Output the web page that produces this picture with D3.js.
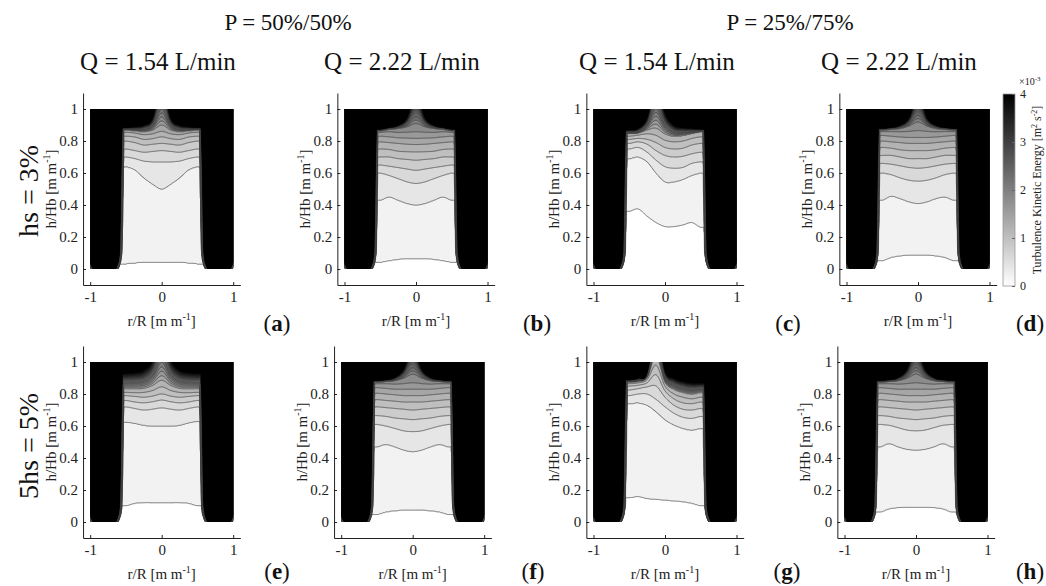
<!DOCTYPE html>
<html>
<head>
<meta charset="utf-8">
<script src="https://cdn.jsdelivr.net/npm/d3@7"></script>
<style>
  body { margin: 0; background: #fff; }
  svg, svg text { font-family: "Liberation Serif", "Times New Roman", serif; }
</style>
</head>
<body>
<div id="chart"></div>
<script>
const stations = [-0.5, -0.375, -0.25, -0.125, 0, 0.125, 0.25, 0.375, 0.5];
const levelStep = 0.2e-3;     // TKE between two contour levels
const levelMax = 20;          // 20 * 0.2e-3 = 4e-3, colour limit
const cbTicks = [0, 1, 2, 3, 4];
const xTicks = [-1, 0, 1];
const yTicks = [0, 0.2, 0.4, 0.6, 0.8, 1];

// channel half width vs height (h/Hb)
const wallH = [0, 0.02, 0.05, 0.1, 0.3, 0.6, 0.88, 1.0];
const wallR = [0.63, 0.61, 0.59, 0.575, 0.565, 0.555, 0.54, 0.535];

// heights of contour levels 1..K at each station, plus height where TKE saturates
const levelsA = [
  [0.03, 0.035, 0.04, 0.04, 0.04, 0.04, 0.04, 0.035, 0.03],
  [0.64, 0.62, 0.57, 0.53, 0.50, 0.53, 0.57, 0.62, 0.64],
  [0.70, 0.69, 0.675, 0.67, 0.67, 0.67, 0.675, 0.69, 0.70],
  [0.75, 0.74, 0.73, 0.735, 0.74, 0.735, 0.73, 0.74, 0.75],
  [0.80, 0.79, 0.775, 0.78, 0.785, 0.78, 0.775, 0.79, 0.80],
  [0.83, 0.825, 0.81, 0.815, 0.826, 0.815, 0.81, 0.825, 0.83],
  [0.855, 0.85, 0.84, 0.845, 0.86, 0.845, 0.84, 0.85, 0.855],
  [0.87, 0.865, 0.86, 0.87, 0.90, 0.87, 0.86, 0.865, 0.87]
];
const topA = [0.885, 0.89, 0.90, 0.95, 1.2, 0.95, 0.90, 0.89, 0.885];

const levelsB = [
  [0.04, 0.05, 0.058, 0.063, 0.063, 0.063, 0.058, 0.05, 0.04],
  [0.43, 0.45, 0.43, 0.41, 0.40, 0.41, 0.43, 0.45, 0.43],
  [0.60, 0.585, 0.565, 0.545, 0.535, 0.545, 0.565, 0.585, 0.60],
  [0.65, 0.642, 0.634, 0.625, 0.617, 0.625, 0.634, 0.642, 0.65],
  [0.70, 0.70, 0.69, 0.685, 0.68, 0.685, 0.69, 0.70, 0.70],
  [0.75, 0.747, 0.736, 0.733, 0.732, 0.733, 0.736, 0.747, 0.75],
  [0.795, 0.79, 0.785, 0.78, 0.778, 0.78, 0.785, 0.79, 0.795],
  [0.83, 0.826, 0.82, 0.818, 0.816, 0.818, 0.82, 0.826, 0.83],
  [0.855, 0.858, 0.854, 0.855, 0.858, 0.855, 0.854, 0.858, 0.855],
  [0.865, 0.875, 0.88, 0.89, 0.91, 0.89, 0.88, 0.875, 0.865]
];
const topB = [0.875, 0.885, 0.90, 0.95, 1.12, 0.95, 0.90, 0.885, 0.875];

const levelsC = [
  [0.36, 0.375, 0.33, 0.29, 0.265, 0.265, 0.275, 0.29, 0.26],
  [0.69, 0.70, 0.67, 0.60, 0.545, 0.545, 0.56, 0.585, 0.60],
  [0.75, 0.76, 0.73, 0.68, 0.64, 0.63, 0.635, 0.66, 0.67],
  [0.785, 0.795, 0.78, 0.74, 0.71, 0.70, 0.705, 0.72, 0.73],
  [0.81, 0.816, 0.81, 0.79, 0.76, 0.75, 0.755, 0.775, 0.785],
  [0.83, 0.837, 0.845, 0.835, 0.805, 0.795, 0.80, 0.816, 0.826],
  [0.847, 0.85, 0.87, 0.88, 0.845, 0.83, 0.835, 0.847, 0.858]
];
const topC = [0.87, 0.88, 0.95, 1.2, 0.98, 0.90, 0.885, 0.88, 0.875];

const levelsD = [
  [0.05, 0.07, 0.08, 0.085, 0.085, 0.085, 0.08, 0.07, 0.05],
  [0.43, 0.455, 0.44, 0.42, 0.41, 0.42, 0.44, 0.45, 0.43],
  [0.60, 0.59, 0.57, 0.555, 0.55, 0.555, 0.57, 0.59, 0.60],
  [0.66, 0.655, 0.645, 0.635, 0.63, 0.635, 0.645, 0.655, 0.66],
  [0.71, 0.71, 0.70, 0.69, 0.69, 0.69, 0.70, 0.71, 0.71],
  [0.76, 0.755, 0.745, 0.74, 0.74, 0.74, 0.745, 0.755, 0.76],
  [0.80, 0.795, 0.79, 0.785, 0.785, 0.785, 0.79, 0.795, 0.80],
  [0.835, 0.83, 0.825, 0.822, 0.822, 0.822, 0.825, 0.83, 0.835],
  [0.86, 0.86, 0.858, 0.86, 0.865, 0.86, 0.858, 0.86, 0.86],
  [0.87, 0.875, 0.88, 0.895, 0.92, 0.895, 0.88, 0.875, 0.87]
];
const topD = [0.88, 0.885, 0.90, 0.95, 1.12, 0.95, 0.90, 0.885, 0.88];

const levelsE = [
  [0.10, 0.115, 0.12, 0.12, 0.12, 0.12, 0.12, 0.115, 0.10],
  [0.625, 0.617, 0.605, 0.60, 0.60, 0.60, 0.605, 0.62, 0.63],
  [0.72, 0.71, 0.70, 0.706, 0.714, 0.706, 0.70, 0.71, 0.72],
  [0.76, 0.75, 0.745, 0.752, 0.762, 0.752, 0.745, 0.75, 0.76],
  [0.79, 0.785, 0.78, 0.787, 0.80, 0.787, 0.78, 0.785, 0.79],
  [0.81, 0.808, 0.81, 0.822, 0.845, 0.822, 0.81, 0.808, 0.81],
  [0.834, 0.834, 0.836, 0.855, 0.886, 0.855, 0.836, 0.834, 0.834]
];
const topE = [0.93, 0.935, 0.95, 1.02, 1.25, 1.02, 0.95, 0.935, 0.93];

const levelsF = [
  [0.045, 0.06, 0.068, 0.072, 0.072, 0.072, 0.068, 0.06, 0.045],
  [0.47, 0.485, 0.47, 0.45, 0.44, 0.45, 0.47, 0.485, 0.47],
  [0.61, 0.60, 0.585, 0.57, 0.565, 0.57, 0.585, 0.60, 0.61],
  [0.665, 0.66, 0.65, 0.645, 0.64, 0.645, 0.65, 0.66, 0.665],
  [0.72, 0.715, 0.71, 0.705, 0.70, 0.705, 0.71, 0.715, 0.72],
  [0.765, 0.76, 0.755, 0.75, 0.75, 0.75, 0.755, 0.76, 0.765],
  [0.805, 0.80, 0.795, 0.79, 0.79, 0.79, 0.795, 0.80, 0.805],
  [0.84, 0.835, 0.83, 0.83, 0.83, 0.83, 0.83, 0.835, 0.84],
  [0.865, 0.865, 0.862, 0.865, 0.87, 0.865, 0.862, 0.865, 0.865],
  [0.875, 0.88, 0.885, 0.90, 0.925, 0.90, 0.885, 0.88, 0.875]
];
const topF = [0.885, 0.89, 0.905, 0.96, 1.12, 0.96, 0.905, 0.89, 0.885];

const levelsG = [
  [0.15, 0.157, 0.145, 0.14, 0.135, 0.13, 0.125, 0.115, 0.10],
  [0.74, 0.745, 0.73, 0.69, 0.64, 0.607, 0.586, 0.575, 0.586],
  [0.79, 0.80, 0.80, 0.766, 0.72, 0.68, 0.655, 0.648, 0.66],
  [0.825, 0.834, 0.845, 0.85, 0.78, 0.73, 0.705, 0.70, 0.71],
  [0.85, 0.855, 0.87, 0.92, 0.82, 0.77, 0.745, 0.74, 0.75],
  [0.865, 0.87, 0.89, 0.98, 0.85, 0.80, 0.78, 0.77, 0.78],
  [0.875, 0.88, 0.905, 1.04, 0.875, 0.83, 0.81, 0.80, 0.81]
];
const topG = [0.89, 0.90, 0.93, 1.25, 0.95, 0.90, 0.88, 0.87, 0.87];

const levelsH = [
  [0.06, 0.08, 0.088, 0.09, 0.09, 0.09, 0.088, 0.08, 0.06],
  [0.47, 0.49, 0.47, 0.455, 0.45, 0.455, 0.47, 0.49, 0.47],
  [0.61, 0.605, 0.59, 0.575, 0.57, 0.575, 0.59, 0.605, 0.61],
  [0.665, 0.66, 0.65, 0.645, 0.64, 0.645, 0.65, 0.66, 0.665],
  [0.72, 0.715, 0.71, 0.705, 0.70, 0.705, 0.71, 0.715, 0.72],
  [0.765, 0.76, 0.755, 0.75, 0.75, 0.75, 0.755, 0.76, 0.765],
  [0.805, 0.80, 0.795, 0.79, 0.79, 0.79, 0.795, 0.80, 0.805],
  [0.84, 0.835, 0.83, 0.83, 0.83, 0.83, 0.83, 0.835, 0.84],
  [0.865, 0.865, 0.862, 0.865, 0.87, 0.865, 0.862, 0.865, 0.865],
  [0.875, 0.88, 0.885, 0.90, 0.925, 0.90, 0.885, 0.88, 0.875]
];
const topH = [0.885, 0.89, 0.905, 0.96, 1.12, 0.96, 0.905, 0.89, 0.885];

const colTitlesP = ["P = 50%/50%", "P = 25%/75%"];
const colTitlesQ = ["Q = 1.54 L/min", "Q = 2.22 L/min", "Q = 1.54 L/min", "Q = 2.22 L/min"];
const rowTitles = ["hs = 3%", "5hs = 5%"];

// layout
const W = 1046, H = 586;
const FONT = "Liberation Serif";
const pxPerR = 71.5, pxPerH = 160;
const panels = [
  { id: "a", levels: levelsA, top: topA, cx: 161.7, y0: 269, lx: 277, ly: 331 },
  { id: "b", levels: levelsB, top: topB, cx: 416,   y0: 269, lx: 537, ly: 331 },
  { id: "c", levels: levelsC, top: topC, cx: 665,   y0: 269, lx: 788, ly: 331 },
  { id: "d", levels: levelsD, top: topD, cx: 918,   y0: 269, lx: 1030, ly: 331 },
  { id: "e", levels: levelsE, top: topE, cx: 161.7, y0: 522, lx: 277, ly: 579 },
  { id: "f", levels: levelsF, top: topF, cx: 412.7, y0: 522, lx: 533, ly: 579 },
  { id: "g", levels: levelsG, top: topG, cx: 665,   y0: 522, lx: 787, ly: 579 },
  { id: "h", levels: levelsH, top: topH, cx: 916,   y0: 522, lx: 1030, ly: 579 }
];

const clamp = (v, a, b) => Math.max(a, Math.min(b, v));
const wallScale = d3.scaleLinear().domain(wallH).range(wallR).clamp(true);

// Catmull-Rom through the station values
function atStation(arr, r) {
  const n = stations.length;
  const step = stations[1] - stations[0];
  const t = (clamp(r, stations[0], stations[n - 1]) - stations[0]) / step;
  const i = Math.min(Math.floor(t), n - 2);
  const f = t - i;
  const p0 = arr[Math.max(i - 1, 0)], p1 = arr[i], p2 = arr[i + 1], p3 = arr[Math.min(i + 2, n - 1)];
  return 0.5 * (2 * p1 + (-p0 + p2) * f + (2 * p0 - 5 * p1 + 4 * p2 - p3) * f * f +
    (-p0 + 3 * p1 - 3 * p2 + p3) * f * f * f);
}

function buildField(levels, top) {
  const nx = 300, ny = 200;
  const x0 = -1.06, x1 = 1.06, y0 = -0.06, y1 = 1.06;
  const dx = (x1 - x0) / (nx - 1), dy = (y1 - y0) / (ny - 1);
  const K = levels.length;
  const values = new Float64Array(nx * ny);
  for (let i = 0; i < nx; ++i) {
    const r = clamp(x0 + i * dx, -1, 1);
    const hk = levels.map(l => atStation(l, r));
    for (let k = 1; k < K; ++k) hk[k] = Math.max(hk[k], hk[k - 1] + 0.003);
    const T = Math.max(atStation(top, r), hk[K - 1] + 0.006);
    for (let j = 0; j < ny; ++j) {
      const h = clamp(y0 + j * dy, 0, 1);
      let L;
      if (h <= hk[0]) L = h / hk[0];
      else if (h >= hk[K - 1]) L = K + (levelMax - K) * (h - hk[K - 1]) / (T - hk[K - 1]);
      else {
        let k = 0;
        while (h >= hk[k + 1]) k++;
        L = k + 1 + (h - hk[k]) / (hk[k + 1] - hk[k]);
      }
      // wall of the channel: short ramp into saturation
      const w = wallScale(h);
      const t = clamp((Math.abs(r) - (w - 0.02)) / 0.04, 0, 1);
      let v = Math.max(L, levelMax * 1.1 * Math.pow(t, 0.8));
      // rounded outer bottom corners
      const cxr = (Math.abs(r) - 0.95) / 0.05, cyr = (0.05 - h) / 0.05;
      if (cxr > 0 && cyr > 0) {
        const d = Math.hypot(cxr, cyr);
        v = Math.min(v, levelMax * 1.1 * clamp((1.3 - d) / 0.4, 0, 1));
      }
      values[i + j * nx] = v;
    }
  }
  return { values, nx, ny, x0, y0, dx, dy };
}

const grey = k => { const g = Math.round(255 * (1 - k / levelMax)); return d3.rgb(g, g, g).toString(); };
const thresholds = d3.range(1, levelMax + 1);
const lineLevelMax = 12;   // iso-lines darker than the fill vanish in the reference

const svg = d3.select("#chart").append("svg")
  .attr("width", W).attr("height", H)
  .attr("font-family", FONT);

const defs = svg.append("defs");

panels.forEach((p, idx) => {
  const xs = d3.scaleLinear().domain([-1.1, 1.1]).range([p.cx - 1.1 * pxPerR, p.cx + 1.1 * pxPerR]);
  const ys = d3.scaleLinear().domain([-0.1, 1.1]).range([p.y0 + 0.1 * pxPerH, p.y0 - 1.1 * pxPerH]);
  const g = svg.append("g").attr("class", "panel-" + p.id).attr("font-family", FONT);

  defs.append("clipPath").attr("id", "clip-" + p.id)
    .append("rect")
      .attr("x", xs(-1)).attr("y", ys(1))
      .attr("width", xs(1) - xs(-1)).attr("height", ys(0) - ys(1));

  const field = buildField(p.levels, p.top);
  const contours = d3.contours().size([field.nx, field.ny]).thresholds(thresholds)(field.values);
  const proj = d3.geoTransform({
    point: function (x, y) {
      this.stream.point(xs(field.x0 + (x - 0.5) * field.dx), ys(field.y0 + (y - 0.5) * field.dy));
    }
  });
  const path = d3.geoPath(proj);

  const plot = g.append("g").attr("clip-path", "url(#clip-" + p.id + ")");
  plot.append("rect")
    .attr("x", xs(-1)).attr("y", ys(1))
    .attr("width", xs(1) - xs(-1)).attr("height", ys(0) - ys(1))
    .attr("fill", "#fff");
  // band fills, stroked in their own colour to hide anti-alias seams
  plot.selectAll("path.band").data(contours).enter()
    .append("path")
      .attr("class", "band")
      .attr("d", path)
      .attr("fill", d => grey(d.value))
      .attr("stroke", d => grey(d.value))
      .attr("stroke-width", 0.6);
  plot.selectAll("path.iso").data(contours.filter(c => c.value <= lineLevelMax)).enter()
    .append("path")
      .attr("class", "iso")
      .attr("d", path)
      .attr("fill", "none")
      .attr("stroke", "#444")
      .attr("stroke-width", 0.7);

  // axes (MATLAB style, box off, ticks inward)
  const yAxis = g.append("g").attr("transform", `translate(${xs(-1.1)},0)`)
    .call(d3.axisLeft(ys).tickValues(yTicks).tickSize(-3).tickSizeOuter(0).tickPadding(5)
      .tickFormat(d => String(d)));
  const xAxis = g.append("g").attr("transform", `translate(0,${ys(-0.1)})`)
    .call(d3.axisBottom(xs).tickValues(xTicks).tickSize(-3).tickSizeOuter(0).tickPadding(6)
      .tickFormat(d => String(d)));
  [yAxis, xAxis].forEach(a => {
    a.attr("font-family", FONT).attr("font-size", 15);
    a.selectAll("text").attr("font-family", FONT).attr("font-size", 15).attr("fill", "#222");
    a.selectAll("path, line").attr("stroke", "#222");
  });

  const xl = g.append("text")
    .attr("x", p.cx).attr("y", ys(-0.1) + 41)
    .attr("text-anchor", "middle").attr("font-size", 15).attr("fill", "#222");
  xl.append("tspan").text("r/R [m m");
  xl.append("tspan").attr("dy", -6).attr("font-size", 10).text("-1");
  xl.append("tspan").attr("dy", 6).text("]");

  const yl = g.append("text")
    .attr("transform", `translate(${xs(-1.1) - 27},${ys(0.5)}) rotate(-90)`)
    .attr("text-anchor", "middle").attr("font-size", 15).attr("fill", "#222");
  yl.append("tspan").text("h/Hb [m m");
  yl.append("tspan").attr("dy", -6).attr("font-size", 10).text("-1");
  yl.append("tspan").attr("dy", 6).text("]");

  const lt = g.append("text")
    .attr("x", p.lx).attr("y", p.ly)
    .attr("text-anchor", "middle").attr("font-size", 23).attr("fill", "#111");
  lt.append("tspan").text("(");
  lt.append("tspan").attr("font-weight", "bold").text(p.id);
  lt.append("tspan").text(")");
});

// column / row titles
const pTitleX = [288, 790];
svg.selectAll("text.ptitle").data(colTitlesP).enter()
  .append("text").attr("class", "ptitle")
    .attr("x", (d, i) => pTitleX[i]).attr("y", 30)
    .attr("font-family", FONT)
    .attr("text-anchor", "middle").attr("font-size", 23).attr("fill", "#111")
    .text(d => d);
const qTitleX = [158, 402, 657, 899];
svg.selectAll("text.qtitle").data(colTitlesQ).enter()
  .append("text").attr("class", "qtitle")
    .attr("x", (d, i) => qTitleX[i]).attr("y", 70)
    .attr("font-family", FONT)
    .attr("text-anchor", "middle").attr("font-size", 25).attr("fill", "#111")
    .text(d => d);
const rowTitleY = [191, 446];
svg.selectAll("text.rtitle").data(rowTitles).enter()
  .append("text").attr("class", "rtitle")
    .attr("transform", (d, i) => `translate(38,${rowTitleY[i]}) rotate(-90)`)
    .attr("font-family", FONT)
    .attr("text-anchor", "middle").attr("font-size", 28).attr("fill", "#111")
    .text(d => d);

// colour bar
const cb = svg.append("g").attr("class", "colorbar").attr("font-family", FONT);
const cbX = 1003, cbW = 12;
const cs = d3.scaleLinear().domain([0, 4]).range([286, 94]);
const grad = defs.append("linearGradient").attr("id", "cbGrad")
  .attr("x1", 0).attr("y1", 1).attr("x2", 0).attr("y2", 0);
grad.append("stop").attr("offset", "0%").attr("stop-color", "#fff");
grad.append("stop").attr("offset", "100%").attr("stop-color", "#000");
cb.append("rect")
  .attr("x", cbX).attr("y", cs(4)).attr("width", cbW).attr("height", cs(0) - cs(4))
  .attr("fill", "url(#cbGrad)").attr("stroke", "#999").attr("stroke-width", 0.8);
const cbAxis = cb.append("g").attr("transform", `translate(${cbX + cbW},0)`)
  .call(d3.axisRight(cs).tickValues(cbTicks).tickSize(-3).tickSizeOuter(0).tickPadding(5)
    .tickFormat(d => String(d)));
cbAxis.select(".domain").remove();
cbAxis.attr("font-family", FONT);
cbAxis.selectAll("text").attr("font-family", FONT).attr("font-size", 12).attr("fill", "#222");
cbAxis.selectAll("line").attr("stroke", "#666");

const mult = cb.append("text").attr("x", cbX + cbW + 4).attr("y", cs(4) - 9)
  .attr("font-size", 10).attr("fill", "#222");
mult.append("tspan").text("\u00d710");
mult.append("tspan").attr("dy", -4).attr("font-size", 7).text("-3");

const cbt = cb.append("text")
  .attr("transform", `translate(${W - 5},${(cs(0) + cs(4)) / 2}) rotate(-90)`)
  .attr("text-anchor", "middle").attr("font-size", 12).attr("fill", "#222");
cbt.append("tspan").text("Turbulence Kinetic Energy [m");
cbt.append("tspan").attr("dy", -4).attr("font-size", 8).text("2");
cbt.append("tspan").attr("dy", 4).text(" s");
cbt.append("tspan").attr("dy", -4).attr("font-size", 8).text("-2");
cbt.append("tspan").attr("dy", 4).text("]");
</script>
</body>
</html>
